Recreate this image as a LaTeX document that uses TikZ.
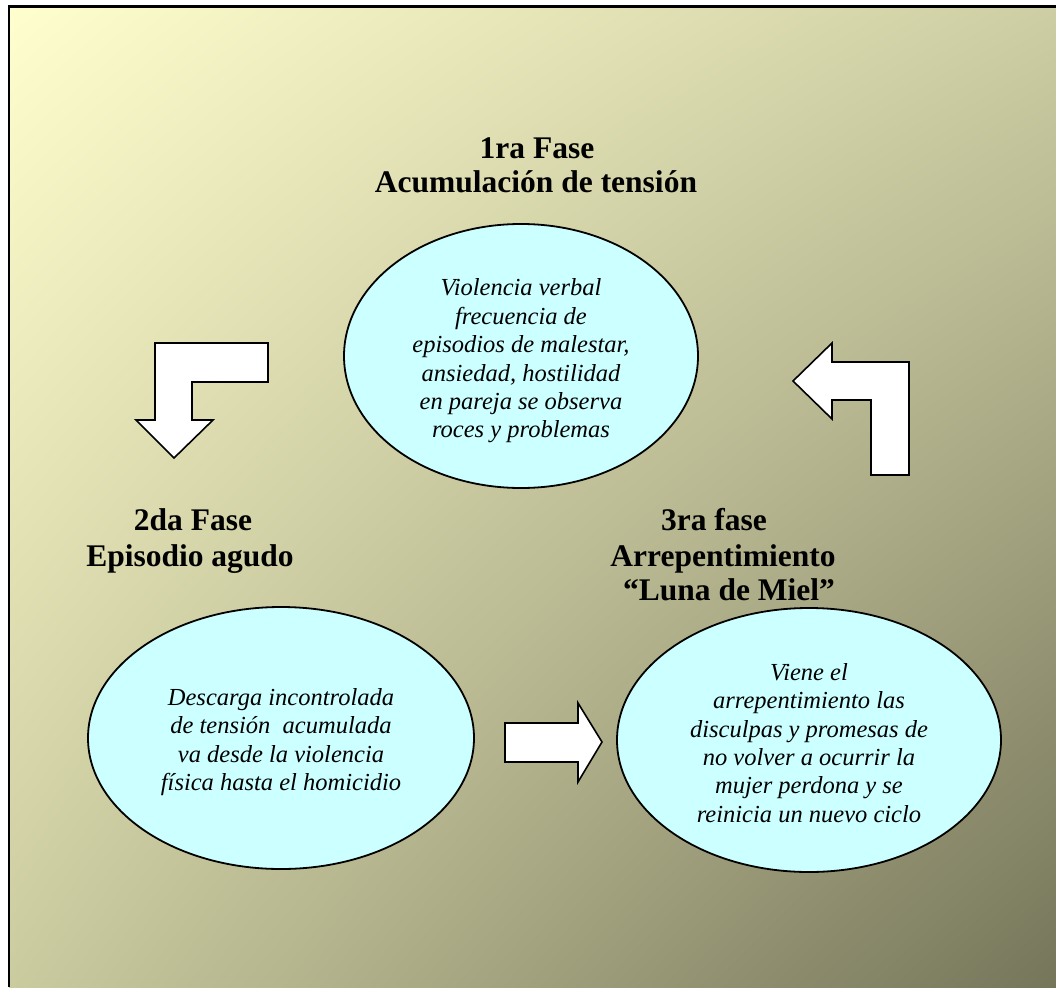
\documentclass[tikz,border=0pt]{standalone}
\usepackage{fontspec}
\setmainfont{Liberation Serif}
\usetikzlibrary{shapes.geometric,shadings}
\definecolor{ulc}{RGB}{255,254,206}
\definecolor{urc}{RGB}{206,206,164}
\definecolor{llc}{RGB}{203,203,160}
\definecolor{lrc}{RGB}{117,117,90}
\definecolor{cyanfill}{RGB}{204,255,255}
\begin{document}
\begin{tikzpicture}[x=1pt,y=-1pt,
  bubble/.style={ellipse, draw=black, line width=1.8pt, fill=cyanfill, inner sep=0pt},
  bubbletext/.style={inner sep=0pt, align=center, font=\fontsize{24.5}{28.4}\selectfont\itshape},
  title/.style={anchor=base, inner sep=0pt, font=\fontsize{31.5}{36}\selectfont\bfseries},
  blockarrow/.style={draw=black, line width=1.6pt, fill=white, line join=miter}]
\useasboundingbox (0,0) rectangle (1056,987);
\fill[white] (0,0) rectangle (1056,987);
\shade[upper left=ulc, upper right=urc, lower left=llc, lower right=lrc] (9,7) rectangle (1056,987);
\draw[line width=2.5pt] (9,987) -- (9,6.5) -- (1056,6.5);

% titles
\node[title] (t1a) at (537,158) {1ra Fase};
\node[title] (t1b) at (536,193) {Acumulación de tensión};
\node[title] (t2a) at (193,530) {2da Fase};
\node[title] (t2b) at (190,566) {Episodio agudo};
\node[title] (t3a) at (714,530) {3ra fase};
\node[title] (t3b) at (723,566) {Arrepentimiento};
\node[title] (t3c) at (729,600) {“Luna de Miel”};

% ellipses
\node[bubble, minimum width=354pt, minimum height=264pt] (e1) at (521,356) {};
\node[bubbletext] (e1t) at (521,361)
  {Violencia verbal\\frecuencia de\\episodios de malestar,\\ansiedad, hostilidad\\en pareja se observa\\roces y problemas};
\node[bubble, minimum width=386pt, minimum height=262pt] (e2) at (281,738) {};
\node[bubbletext] (e2t) at (281,742)
  {Descarga incontrolada\\de tensión\ \ acumulada\\va desde la violencia\\física hasta el homicidio};
\node[bubble, minimum width=384pt, minimum height=264pt] (e3) at (809,740) {};
\node[bubbletext] (e3t) at (809,743)
  {Viene el\\arrepentimiento las\\disculpas y promesas de\\no volver a ocurrir la\\mujer perdona y se\\reinicia un nuevo ciclo};

% block arrows
\draw[blockarrow] (155,343) -- (268,343) -- (268,382) -- (192,382) -- (192,420) -- (213,420)
  -- (174,458) -- (136,420) -- (155,420) -- cycle;
\draw[blockarrow] (793,381) -- (832,343) -- (832,362) -- (909,362) -- (909,475) -- (871,475)
  -- (871,400) -- (832,400) -- (832,419) -- cycle;
\draw[blockarrow] (505,723) -- (578,723) -- (578,703) -- (602,742) -- (578,782) -- (578,762)
  -- (505,762) -- cycle;
\end{tikzpicture}
\end{document}
